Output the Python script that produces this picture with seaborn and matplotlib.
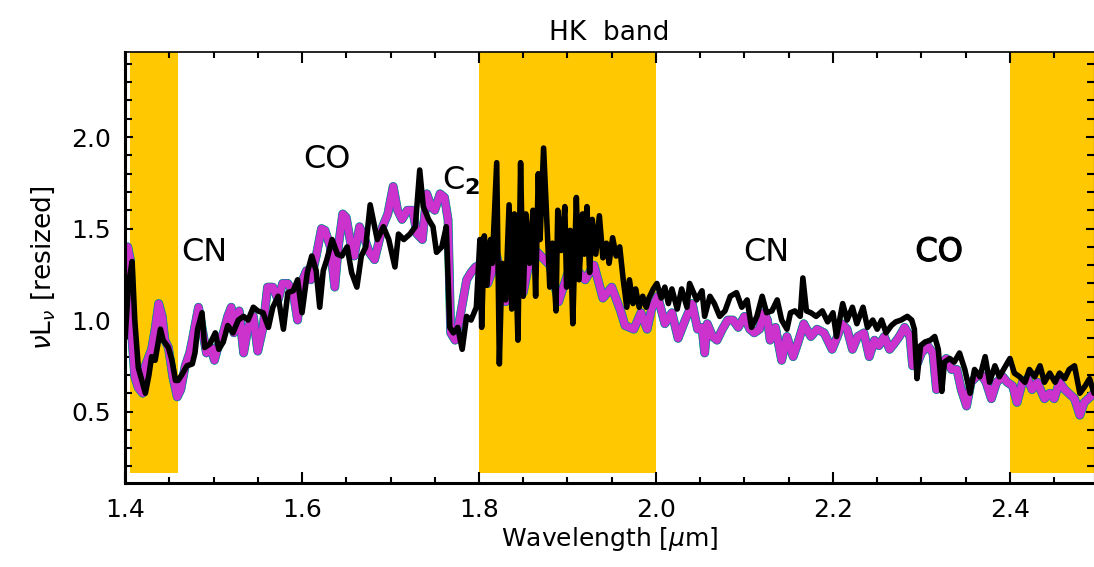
import numpy as np
import pandas as pd
import matplotlib
matplotlib.use("Agg")
import matplotlib.pyplot as plt
import matplotlib.patheffects as pe
import seaborn as sns

wl_obs = [1.400, 1.404, 1.408, 1.411, 1.415, 1.419, 1.423, 1.427, 1.430, 1.434,
          1.440, 1.443, 1.449, 1.453, 1.457, 1.460, 1.464, 1.470, 1.476, 1.479,
          1.482, 1.487, 1.490, 1.496, 1.502, 1.506, 1.511, 1.516, 1.522, 1.528,
          1.534, 1.539, 1.545, 1.550, 1.556, 1.562, 1.567, 1.573, 1.579, 1.584,
          1.590, 1.595, 1.600, 1.606, 1.611, 1.616, 1.620, 1.624, 1.628, 1.634,
          1.640, 1.645, 1.651, 1.656, 1.662, 1.667, 1.672, 1.677, 1.685, 1.692,
          1.698, 1.705, 1.709, 1.715, 1.722, 1.728, 1.733, 1.737, 1.743, 1.748,
          1.752, 1.758, 1.763, 1.767, 1.771, 1.776, 1.781, 1.786, 1.791, 1.797,
          1.801, 1.803, 1.806, 1.809, 1.813, 1.815, 1.820, 1.823, 1.826, 1.830,
          1.834, 1.837, 1.840, 1.844, 1.847, 1.850, 1.853, 1.857, 1.861, 1.864,
          1.867, 1.869, 1.873, 1.876, 1.880, 1.883, 1.887, 1.889, 1.893, 1.897,
          1.899, 1.903, 1.906, 1.910, 1.913, 1.917, 1.919, 1.922, 1.925, 1.928,
          1.932, 1.936, 1.940, 1.944, 1.947, 1.951, 1.955, 1.959, 1.963, 1.967,
          1.970, 1.974, 1.977, 1.981, 1.985, 1.989, 1.992, 1.997, 2.001, 2.006,
          2.010, 2.014, 2.018, 2.024, 2.029, 2.035, 2.038, 2.046, 2.052, 2.055,
          2.061, 2.066, 2.072, 2.078, 2.084, 2.091, 2.097, 2.103, 2.108, 2.114,
          2.120, 2.125, 2.131, 2.137, 2.142, 2.148, 2.152, 2.157, 2.163, 2.166,
          2.170, 2.175, 2.181, 2.188, 2.194, 2.200, 2.204, 2.211, 2.216, 2.222,
          2.227, 2.234, 2.239, 2.245, 2.250, 2.255, 2.260, 2.266, 2.271, 2.277,
          2.284, 2.289, 2.292, 2.295, 2.299, 2.304, 2.310, 2.315, 2.319, 2.323,
          2.326, 2.332, 2.337, 2.343, 2.349, 2.355, 2.360, 2.366, 2.372, 2.377,
          2.383, 2.388, 2.394, 2.400, 2.405, 2.411, 2.417, 2.422, 2.428, 2.434,
          2.439, 2.445, 2.451, 2.456, 2.462, 2.467, 2.473, 2.479, 2.485, 2.490,
          2.495]
flux_obs = [0.90, 1.20, 1.32, 1.00, 0.74, 0.67, 0.60, 0.70, 0.80, 0.78,
            0.95, 0.89, 0.85, 0.78, 0.67, 0.67, 0.70, 0.75, 0.76, 0.82,
            0.95, 1.04, 0.85, 0.87, 0.93, 0.84, 0.88, 0.97, 0.93, 1.00,
            1.02, 1.00, 1.07, 1.05, 1.04, 0.96, 1.07, 1.13, 0.95, 1.15,
            1.16, 1.22, 1.04, 1.26, 1.35, 1.27, 1.07, 1.27, 1.33, 1.44,
            1.36, 1.35, 1.40, 1.26, 1.18, 1.35, 1.40, 1.63, 1.44, 1.51,
            1.44, 1.29, 1.47, 1.44, 1.47, 1.51, 1.82, 1.62, 1.55, 1.51,
            1.37, 1.40, 1.51, 0.96, 0.93, 0.96, 0.84, 1.02, 1.00, 1.07,
            1.44, 0.96, 1.46, 1.19, 1.44, 1.31, 1.86, 0.76, 1.31, 1.11,
            1.63, 1.06, 1.58, 0.89, 1.86, 1.13, 1.58, 1.31, 1.60, 1.13,
            1.80, 1.44, 1.94, 1.62, 1.18, 1.42, 1.05, 1.60, 1.38, 1.62,
            1.18, 1.49, 0.98, 1.67, 1.22, 1.58, 1.36, 1.62, 1.26, 1.55,
            1.36, 1.57, 1.34, 1.42, 1.31, 1.45, 1.35, 1.40, 1.22, 1.07,
            1.22, 1.09, 1.17, 1.07, 1.13, 1.07, 1.12, 1.17, 1.20, 1.12,
            1.18, 1.09, 1.17, 1.06, 1.17, 1.07, 1.20, 1.11, 1.16, 1.02,
            1.13, 1.09, 1.02, 1.05, 1.13, 1.15, 1.07, 1.11, 0.96, 1.02,
            1.13, 1.04, 1.05, 1.11, 1.00, 0.95, 1.04, 1.05, 1.02, 1.23,
            1.05, 1.04, 1.02, 1.05, 0.99, 1.04, 0.91, 1.09, 1.00, 1.07,
            0.98, 1.07, 0.96, 1.00, 0.95, 1.00, 0.93, 0.97, 0.99, 1.00,
            1.02, 1.00, 0.95, 0.68, 0.86, 0.88, 0.89, 0.91, 0.84, 0.61,
            0.77, 0.79, 0.77, 0.82, 0.73, 0.60, 0.73, 0.69, 0.80, 0.66,
            0.75, 0.69, 0.74, 0.79, 0.71, 0.69, 0.66, 0.73, 0.69, 0.75,
            0.66, 0.71, 0.66, 0.71, 0.68, 0.73, 0.75, 0.60, 0.64, 0.68,
            0.60]

# model spectra (magenta on top of green/cyan/blue copies)
wl_mod = [1.400, 1.403, 1.406, 1.408, 1.411, 1.415, 1.420, 1.423, 1.430, 1.434,
          1.438, 1.442, 1.445, 1.449, 1.454, 1.459, 1.463, 1.468, 1.473, 1.476,
          1.483, 1.487, 1.492, 1.497, 1.501, 1.506, 1.511, 1.516, 1.520, 1.523,
          1.529, 1.534, 1.539, 1.545, 1.550, 1.556, 1.561, 1.567, 1.573, 1.578,
          1.584, 1.590, 1.595, 1.599, 1.605, 1.610, 1.616, 1.622, 1.626, 1.632,
          1.637, 1.641, 1.646, 1.650, 1.655, 1.659, 1.665, 1.671, 1.676, 1.682,
          1.691, 1.697, 1.703, 1.708, 1.713, 1.719, 1.725, 1.730, 1.736, 1.741,
          1.746, 1.750, 1.756, 1.761, 1.765, 1.768, 1.773, 1.778, 1.786, 1.791,
          1.796, 1.800, 1.810, 1.820, 1.830, 1.840, 1.850, 1.860, 1.870, 1.880,
          1.890, 1.900, 1.910, 1.920, 1.930, 1.940, 1.950, 1.960, 1.965, 1.975,
          1.983, 1.990, 1.995, 2.002, 2.010, 2.018, 2.025, 2.033, 2.041, 2.047,
          2.052, 2.055, 2.058, 2.064, 2.069, 2.075, 2.081, 2.087, 2.093, 2.100,
          2.106, 2.111, 2.117, 2.122, 2.126, 2.129, 2.135, 2.142, 2.148, 2.155,
          2.160, 2.167, 2.175, 2.182, 2.190, 2.199, 2.205, 2.210, 2.216, 2.222,
          2.228, 2.235, 2.241, 2.247, 2.252, 2.258, 2.264, 2.269, 2.275, 2.281,
          2.287, 2.290, 2.296, 2.300, 2.307, 2.313, 2.317, 2.321, 2.328, 2.334,
          2.340, 2.345, 2.351, 2.356, 2.362, 2.368, 2.373, 2.379, 2.385, 2.392,
          2.397, 2.403, 2.408, 2.414, 2.420, 2.425, 2.431, 2.439, 2.445, 2.450,
          2.456, 2.462, 2.473, 2.479, 2.484, 2.495]
flux_mod = [1.15, 1.40, 1.33, 0.89, 0.69, 0.63, 0.60, 0.75, 0.84, 0.95,
            1.09, 1.02, 0.89, 0.85, 0.69, 0.58, 0.62, 0.75, 0.82, 0.89,
            1.07, 0.96, 0.82, 0.85, 0.78, 0.87, 0.93, 1.02, 1.07, 0.93,
            1.05, 0.82, 0.96, 1.02, 0.83, 0.96, 1.18, 1.18, 1.11, 1.20,
            1.20, 1.15, 1.00, 1.20, 1.27, 1.22, 1.35, 1.50, 1.49, 1.40,
            1.18, 1.40, 1.58, 1.56, 1.42, 1.35, 1.51, 1.44, 1.37, 1.33,
            1.51, 1.58, 1.73, 1.60, 1.55, 1.60, 1.60, 1.47, 1.44, 1.69,
            1.62, 1.60, 1.69, 1.67, 1.55, 0.93, 0.89, 1.00, 1.22, 1.26,
            1.29, 1.30, 1.20, 1.35, 1.10, 1.30, 1.15, 1.40, 1.35, 1.30,
            1.10, 1.25, 1.28, 1.22, 1.30, 1.12, 1.18, 1.05, 0.97, 0.95,
            1.04, 0.95, 1.06, 1.13, 0.98, 1.04, 0.90, 1.00, 1.09, 0.95,
            0.96, 0.82, 0.98, 0.91, 0.89, 0.95, 1.00, 1.00, 0.96, 1.02,
            0.95, 0.93, 0.95, 1.04, 1.00, 0.89, 0.96, 0.78, 0.91, 0.80,
            0.87, 0.98, 0.91, 0.95, 0.93, 0.84, 0.91, 0.98, 0.95, 0.84,
            0.91, 0.93, 0.80, 0.89, 0.86, 0.91, 0.84, 0.87, 0.91, 0.96,
            0.91, 0.75, 0.77, 0.82, 0.86, 0.82, 0.62, 0.75, 0.79, 0.73,
            0.73, 0.62, 0.53, 0.66, 0.69, 0.70, 0.66, 0.57, 0.66, 0.69,
            0.66, 0.64, 0.55, 0.66, 0.68, 0.62, 0.66, 0.57, 0.60, 0.57,
            0.66, 0.62, 0.57, 0.48, 0.55, 0.60]

# shaded (telluric) bands
band_lo = [1.4055, 1.80, 2.40]
band_hi = [1.46, 2.00, 2.52]

# molecule labels
labels = ["CN", "CO", "C$_{\\mathbf{2}}$", "CN", "CO"]
label_x = [1.49, 1.628, 1.78, 2.125, 2.32]
label_y = [1.37, 1.88, 1.76, 1.37, 1.37]

sns.set_style("ticks")
plt.rcParams['font.family'] = ['DejaVu Sans']
plt.rcParams['mathtext.fontset'] = 'dejavusans'
plt.rcParams['text.color'] = 'black'
plt.rcParams['axes.labelcolor'] = 'black'
plt.rcParams['axes.edgecolor'] = 'black'
plt.rcParams['xtick.color'] = 'black'
plt.rcParams['ytick.color'] = 'black'

fig = plt.figure(figsize=(10.94, 5.67), dpi=100)
ax = fig.add_axes([0.1143, 0.148, 0.8857, 0.760])

for lo, hi in zip(band_lo, band_hi):
    ax.fill_between([lo, hi], 0.165, 2.47, color="#FFC800", lw=0, zorder=0)

mod = pd.DataFrame({"wl": wl_mod, "flux": flux_mod})
obs = pd.DataFrame({"wl": wl_obs, "flux": flux_obs})
for col, lw in [("#00A040", 6.4), ("#20B8C8", 6.0), ("#3040C0", 5.7), ("#CC33CC", 5.3)]:
    sns.lineplot(data=mod, x="wl", y="flux", ax=ax, color=col, lw=lw,
                 estimator=None, sort=False, zorder=2)
sns.lineplot(data=obs, x="wl", y="flux", ax=ax, color="black", lw=4.0,
             estimator=None, sort=False, zorder=3)

for i, (t, x, y) in enumerate(zip(labels, label_x, label_y)):
    txt = ax.text(x, y, t, fontsize=23, ha="center", va="center", zorder=4)
    if i == 4:
        # the last label is drawn a bit heavier in the original
        txt.set_path_effects([pe.withStroke(linewidth=0.9, foreground="black")])

ax.set_xlim(1.4, 2.495)
ax.set_ylim(0.109, 2.464)
ax.set_xticks([1.4, 1.6, 1.8, 2.0, 2.2, 2.4])
ax.set_xticks(np.arange(1.4, 2.5, 0.05), minor=True)
ax.set_yticks([0.5, 1.0, 1.5, 2.0])
ax.set_yticks(np.arange(0.2, 2.5, 0.1), minor=True)
ax.tick_params(axis="both", which="both", direction="in", top=True, right=True,
               labelsize=18, width=1.5)
ax.tick_params(axis="x", which="major", length=8, pad=11)
ax.tick_params(axis="x", which="minor", length=4)
ax.tick_params(axis="y", which="major", length=6, pad=10)
ax.tick_params(axis="y", which="minor", length=5)
for s in ["left", "bottom"]:
    ax.spines[s].set_linewidth(2.2)
ax.spines["top"].set_linewidth(1.2)

ax.set_xlabel("Wavelength [$\\mu$m]", fontsize=18, labelpad=2)
ax.set_ylabel("$\\nu$L$_\\nu$ [resized]", fontsize=19, labelpad=10)
ax.set_title("HK  band", fontsize=19, pad=9)

fig.savefig("out.png", dpi=100)
